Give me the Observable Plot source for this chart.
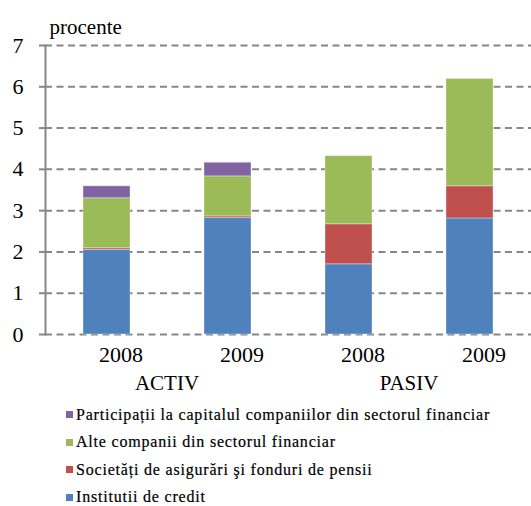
<!DOCTYPE html>
<html><head><meta charset="utf-8">
<script src="https://cdn.jsdelivr.net/npm/d3@7"></script>
<script src="https://cdn.jsdelivr.net/npm/@observablehq/plot@0.6"></script>
<style>
html,body{margin:0;background:#fff;overflow:hidden;width:531px;height:506px}
#legend{margin-left:66px;margin-top:1px;font-family:'Liberation Serif',serif}
.row{display:flex;align-items:center;height:27.5px;font-size:16px;letter-spacing:0.8px;color:#000;white-space:nowrap;-webkit-text-stroke:0.2px #000}
.sw{width:7px;height:7px;margin-right:3px;flex:none}
</style></head><body><div id="chart"></div><div id="legend"></div>
<script>
const groups = ["ACTIV","ACTIV","PASIV","PASIV"];
const years = ["2008","2009","2008","2009"];
const seriesNames = [
  "Institutii de credit",
  "Societăți de asigurări şi fonduri de pensii",
  "Alte companii din sectorul financiar",
  "Participații la capitalul companiilor din sectorul financiar"
];
const credit = [2.05, 2.82, 1.70, 2.81];
const asigurari = [0.04, 0.04, 0.97, 0.78];
const alte = [1.21, 0.97, 1.65, 2.60];
const participatii = [0.29, 0.33, 0, 0];
const colors = ["#4F81BD","#C0504D","#9BBB59","#8064A2"];
const yTicks = [0,1,2,3,4,5,6,7];
const yLabel = "procente";

const FONT = "Liberation Serif";
const keys = groups.map((g,i)=>g+" "+years[i]);
const seriesValues = [credit, asigurari, alte, participatii];
const rows = seriesNames.flatMap((s,j)=>keys.map((k,i)=>({key:k, series:s, value:seriesValues[j][i]})));
const groupStarts = keys.map((k,i)=>({key:k, label:groups[i], first: i===0 || groups[i]!==groups[i-1]})).filter(d=>d.first);

const plot = Plot.plot({
  width:531, height:400, marginLeft:45, marginRight:0, marginTop:45, marginBottom:66,
  style:{fontFamily:FONT, fontSize:"21px", color:"black", background:"white", overflow:"visible"},
  x:{domain:keys, paddingInner:0.614, paddingOuter:0.312, axis:null},
  y:{domain:[0,7], axis:null},
  color:{domain:seriesNames, range:colors},
  marks:[
    Plot.ruleY(yTicks, {stroke:"#868686", strokeWidth:2, strokeDasharray:"7,4.5"}),
    Plot.barY(rows, {x:"key", y:"value", fill:"series", stroke:"white", strokeOpacity:0.35, strokeWidth:1}),
    Plot.axisY(yTicks, {tickSize:6, tickPadding:16, stroke:"#868686", strokeWidth:2, fill:"black", fontSize:22, fontFamily:FONT, fontVariant:"normal", label:null}),
    Plot.frame({anchor:"left", stroke:"#868686", strokeWidth:2}),
    Plot.text([yLabel], {text:d=>d, frameAnchor:"top-left", textAnchor:"start", lineAnchor:"bottom", dx:4, dy:-12, fontSize:21, fontFamily:FONT, fill:"black"}),
    Plot.text(keys, {x:d=>d, text:(d,i)=>years[i], frameAnchor:"bottom", dy:27, dx:14, fontSize:22, fontFamily:FONT, fill:"black"}),
    Plot.text(groupStarts, {x:"key", text:"label", frameAnchor:"bottom", dy:55, dx:60, fontSize:21, fontFamily:FONT, fill:"black"})
  ]
});
document.getElementById("chart").append(plot);

const legend = document.getElementById("legend");
for (let j = seriesNames.length - 1; j >= 0; j--) {
  const row = document.createElement("div");
  row.className = "row";
  const sw = document.createElement("span");
  sw.className = "sw";
  sw.style.background = colors[j];
  const t = document.createElement("span");
  t.textContent = seriesNames[j];
  row.append(sw, t);
  legend.append(row);
}
</script>
</body></html>
